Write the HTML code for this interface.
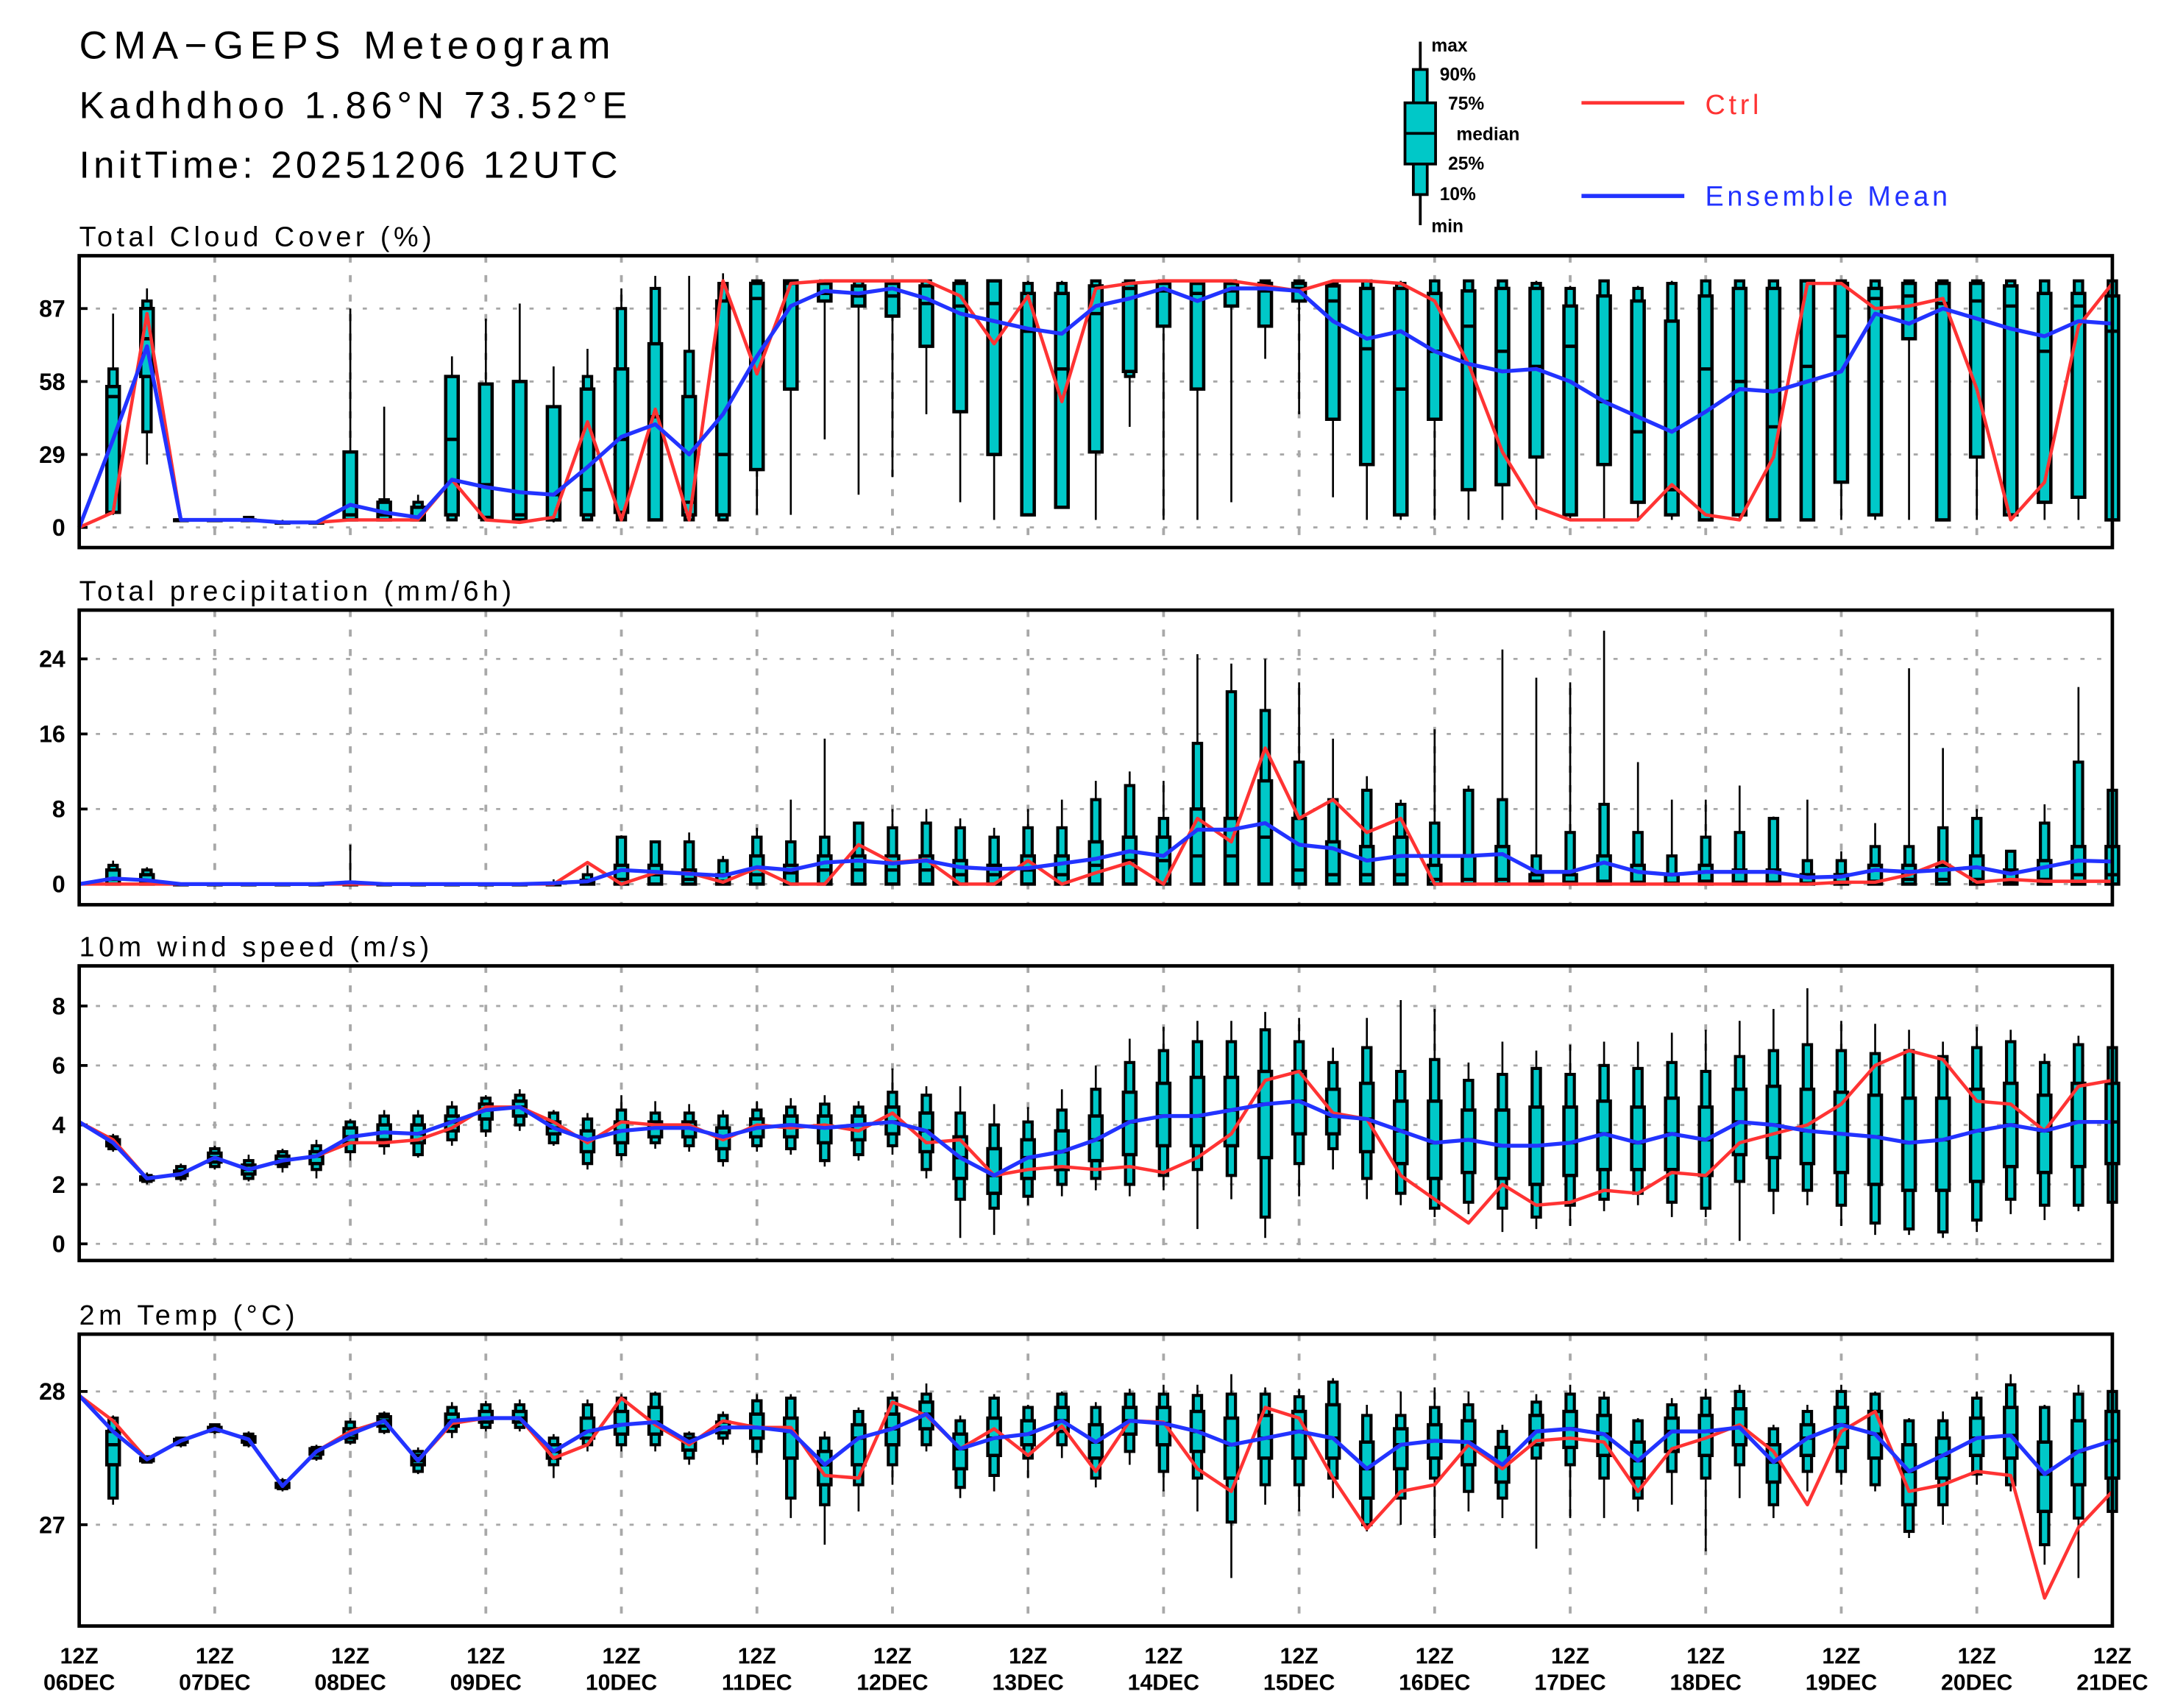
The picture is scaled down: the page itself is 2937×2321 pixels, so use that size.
<!DOCTYPE html>
<html><head><meta charset="utf-8"><style>
html,body{margin:0;padding:0;background:#fff;}
svg{display:block;font-family:"Liberation Sans",sans-serif;}
</style></head><body>
<svg id="chart" xmlns="http://www.w3.org/2000/svg" width="2937" height="2321" viewBox="0 0 1555 1229" preserveAspectRatio="none">
<g>
<text x="57" y="42" font-size="28" letter-spacing="4.5">CMA−GEPS Meteogram</text>
<text x="57" y="85" font-size="27" letter-spacing="3.5">Kadhdhoo 1.86°N 73.52°E</text>
<text x="57" y="128" font-size="27" letter-spacing="2.8">InitTime: 20251206 12UTC</text>
</g>
<g font-weight="bold" font-size="13">
<line x1="1022" y1="30" x2="1022" y2="162" stroke="#000" stroke-width="2"/>
<rect x="1017" y="50" width="10" height="90" fill="#00c8c8" stroke="#000" stroke-width="2"/>
<rect x="1011" y="74" width="22" height="44" fill="#00c8c8" stroke="#000" stroke-width="2"/>
<line x1="1011" y1="96" x2="1033" y2="96" stroke="#000" stroke-width="2"/>
<text x="1030" y="37">max</text>
<text x="1036" y="58">90%</text>
<text x="1042" y="79">75%</text>
<text x="1048" y="101">median</text>
<text x="1042" y="122">25%</text>
<text x="1036" y="144">10%</text>
<text x="1030" y="167">min</text>
<line x1="1138" y1="74" x2="1212" y2="74" stroke="#ff3333" stroke-width="2.5"/>
<text x="1227" y="82" font-size="20" font-weight="normal" letter-spacing="2.5" fill="#ff3333">Ctrl</text>
<line x1="1138" y1="141" x2="1212" y2="141" stroke="#2233ff" stroke-width="3"/>
<text x="1227" y="148" font-size="20" font-weight="normal" letter-spacing="2.5" fill="#2233ff">Ensemble Mean</text>
</g>
<g id="plots"></g>
</svg>
<script>
// box rows: [min, p10, p25, median, p75, p90, max]
const cloudBoxes=[[5,6,6,52,56,63,85],[25,38,60,75,87,90,95],[3,3,3,3,3,3,3],[3,3,3,3,3,3,3],[3,3,3,3,3,4,4],[2,2,2,2,2,2,3],[2,2,2,2,2,2,2],[3,3,3,5,30,30,87],[3,3,3,5,10,11,48],[3,3,3,4,8,10,13],[3,3,5,35,60,60,68],[3,3,4,17,57,57,83],[3,3,3,5,58,58,89],[2,3,3,13,48,48,64],[3,3,5,15,55,60,71],[3,3,6,35,63,87,95],[3,3,3,44,73,95,100],[3,3,5,10,52,70,100],[3,3,5,29,90,97,101],[5,23,23,91,97,98,98],[5,55,55,97,98,98,98],[35,90,90,93,97,98,98],[13,88,88,92,96,98,98],[20,84,84,92,97,98,98],[45,72,72,89,96,98,98],[10,46,46,88,97,98,98],[3,29,29,89,98,98,98],[5,5,5,78,93,97,98],[8,8,8,63,93,97,98],[3,30,30,85,96,98,98],[40,60,62,95,97,98,98],[3,80,80,94,97,98,98],[3,55,55,93,97,98,98],[10,88,88,94,97,98,98],[67,80,80,94,97,98,98],[45,90,90,95,97,98,98],[12,43,43,90,96,97,98],[3,25,25,71,95,98,98],[3,5,5,55,95,97,98],[3,43,43,70,93,98,98],[3,15,15,80,94,98,98],[3,17,17,70,95,98,98],[3,28,28,64,95,97,98],[3,5,5,72,88,95,96],[3,25,25,50,92,98,98],[3,10,10,38,90,95,96],[3,5,5,15,82,97,98],[3,3,3,63,92,98,98],[3,5,5,58,95,98,98],[3,3,3,40,95,98,98],[3,3,3,64,98,98,98],[3,18,18,76,97,98,98],[3,5,5,91,95,98,98],[3,75,75,92,97,98,98],[3,3,3,89,97,98,98],[3,28,28,90,97,98,98],[3,5,5,88,96,98,98],[3,10,10,70,93,98,98],[3,12,12,88,93,98,98],[3,3,3,78,92,98,98]];
const cloudCtrl=[0,6,85,3,3,3,2,2,3,3,3,19,3,2,4,42,3,47,3,98,61,97,98,98,98,98,92,73,92,50,95,97,98,98,98,96,94,98,98,97,90,65,30,8,3,3,3,17,5,3,28,97,97,87,88,91,55,3,18,80,97];
const cloudMean=[0,35,72,3,3,3,2,2,9,6,4,19,16,14,13,24,36,41,29,45,68,88,94,93,95,91,85,82,79,77,88,91,95,90,95,95,94,82,75,78,70,65,62,63,58,50,44,38,46,55,54,58,62,85,81,87,83,79,76,82,81];

const precipBoxes=[[0,0,0,0.5,1.5,2,2.5],[0,0,0,0.3,1,1.5,1.8],[0,0,0,0,0,0,0],[0,0,0,0,0,0,0],[0,0,0,0,0,0,0.1],[0,0,0,0,0,0,0.1],[0,0,0,0,0,0,0],[0,0,0,0,0,0.2,4.2],[0,0,0,0,0,0,0],[0,0,0,0,0,0,0],[0,0,0,0,0,0,0],[0,0,0,0,0,0,0],[0,0,0,0,0,0,0],[0,0,0,0,0,0,0.5],[0,0,0,0.1,0.4,1,2],[0,0,0,0.5,2,5,5.2],[0,0,0,1,2,4.5,4.6],[0,0,0,0.5,1.5,4.5,5.5],[0,0,0,0.3,1,2.5,3],[0,0,0,1,3,5,6],[0,0,0,1.2,2,4.5,9],[0,0,0,1.5,3,5,15.5],[0,0,0,1.5,3,6.5,6.6],[0,0,0,1.5,3,6,8],[0,0,0,1.5,3,6.5,8],[0,0,0,1,2.5,6,7],[0,0,0,1,2,5,6],[0,0,0,1.5,3,6,8],[0,0,0,1,3,6,9],[0,0,0,2,4.5,9,11],[0,0,0,2.5,5,10.5,12],[0,0,0,2.5,5,7,11],[0,0,0,3,8,15,24.5],[0,0,0,3,7,20.5,23.5],[0,0,0,5,11,18.5,24],[0,0,0,1.5,7,13,21.5],[0,0,0,1,4.5,9,15.5],[0,0,0,1,4,10,11.5],[0,0,0,1,5,8.5,9],[0,0,0,0.5,2,6.5,16.5],[0,0,0,0.5,3,10,10.5],[0,0,0,0.5,4,9,25],[0,0,0,0.3,1,3,22],[0,0,0,0.2,1,5.5,21.5],[0,0,0,0.3,3,8.5,27],[0,0,0,0.2,2,5.5,13],[0,0,0,0.1,1,3,9],[0,0,0,0.3,2,5,9],[0,0,0,0.2,1.5,5.5,10.5],[0,0,0,0.2,1.5,7,7.2],[0,0,0,0.1,1,2.5,9],[0,0,0,0.2,1,2.5,3.5],[0,0,0,0.3,2,4,6.5],[0,0,0,0.5,2,4,23],[0,0,0,0.5,2,6,14.5],[0,0,0,0.5,3,7,8],[0,0,0,0.2,1.5,3.5,3.6],[0,0,0,0.5,2.5,6.5,8.5],[0,0,0,1,4,13,21],[0,0,0,1,4,10,10]];
const precipCtrl=[0,0,0,0,0,0,0,0,0,0,0,0,0,0,0,2.3,0,1.2,1.2,0.2,1.7,0,0,4.2,2.3,2.6,0,0,2.5,0,1.2,2.3,0,7,4.5,14.5,7,9,5.5,7,0,0,0,0,0,0,0,0,0,0,0,0,0.2,0.2,1,2.4,0.2,0.5,0.3,0.3,0.3];
const precipMean=[0,0.6,0.4,0,0,0,0,0,0.2,0,0,0,0,0,0.1,0.3,1.5,1.3,1.1,0.9,1.8,1.5,2.3,2.5,2.2,2.5,1.8,1.6,1.7,2.2,2.7,3.5,3,5.8,5.8,6.5,4.2,3.8,2.5,3,3,3,3.2,1.3,1.3,2.3,1.3,1,1.3,1.3,1.3,0.7,0.8,1.5,1.3,1.5,1.8,1.1,1.8,2.5,2.4];

const windBoxes=[[3.1,3.2,3.3,3.4,3.5,3.6,3.7],[2.0,2.1,2.15,2.2,2.25,2.3,2.4],[2.1,2.2,2.3,2.35,2.45,2.6,2.7],[2.5,2.6,2.75,2.9,3.05,3.2,3.3],[2.1,2.2,2.35,2.5,2.65,2.8,3.0],[2.4,2.6,2.7,2.8,2.95,3.1,3.2],[2.2,2.5,2.7,2.95,3.1,3.3,3.5],[2.8,3.1,3.4,3.6,3.9,4.1,4.2],[3.0,3.3,3.5,3.75,4.0,4.3,4.5],[2.9,3.0,3.4,3.7,4.0,4.3,4.5],[3.3,3.5,3.8,4.1,4.3,4.6,4.8],[3.6,3.8,4.2,4.5,4.7,4.9,5.0],[3.8,4.0,4.3,4.6,4.8,5.0,5.2],[3.3,3.4,3.7,3.9,4.1,4.4,4.5],[2.5,2.7,3.1,3.5,3.8,4.2,4.4],[2.8,3.0,3.4,3.8,4.1,4.5,5.0],[3.2,3.4,3.6,3.9,4.1,4.4,4.8],[3.1,3.3,3.6,3.9,4.1,4.4,4.7],[2.6,2.8,3.2,3.6,3.9,4.3,4.5],[3.1,3.3,3.6,3.9,4.2,4.5,4.8],[3.0,3.2,3.6,4.0,4.3,4.6,4.9],[2.6,2.8,3.4,3.9,4.3,4.7,5.0],[2.8,3.0,3.5,4.0,4.3,4.6,4.8],[3.0,3.3,3.7,4.1,4.6,5.1,5.9],[2.2,2.5,3.1,3.8,4.4,5.0,5.3],[0.2,1.5,2.2,2.9,3.6,4.4,5.3],[0.3,1.2,1.7,2.3,3.2,4.0,4.7],[1.3,1.6,2.2,2.9,3.5,4.1,4.6],[1.6,2.0,2.5,3.1,3.8,4.5,5.2],[1.8,2.2,2.8,3.5,4.3,5.2,6.0],[1.6,2.0,3.0,4.1,5.1,6.1,6.9],[1.8,2.3,3.3,4.3,5.4,6.5,7.3],[0.5,2.5,3.3,4.3,5.6,6.8,7.5],[1.5,2.3,3.3,4.5,5.6,6.8,7.5],[0.2,0.9,2.9,4.7,5.8,7.2,7.8],[1.6,2.7,3.7,4.8,5.8,6.8,7.6],[2.5,3.2,3.7,4.3,5.2,6.1,6.6],[1.5,2.2,3.1,4.2,5.4,6.6,7.6],[1.3,1.7,2.7,3.8,4.8,5.8,8.2],[0.9,1.2,2.2,3.4,4.8,6.2,7.9],[1.0,1.4,2.4,3.5,4.5,5.5,6.1],[0.4,1.2,2.2,3.3,4.5,5.7,6.8],[0.5,0.9,2.0,3.3,4.6,5.9,6.5],[0.6,1.3,2.3,3.4,4.6,5.7,6.7],[1.1,1.5,2.5,3.7,4.8,6.0,6.8],[1.3,1.7,2.5,3.4,4.6,5.9,6.8],[0.9,1.4,2.5,3.7,4.9,6.1,7.1],[0.9,1.2,2.3,3.5,4.6,5.8,7.2],[0.1,2.1,3.0,4.1,5.2,6.3,7.5],[1.0,1.8,2.9,4.0,5.3,6.5,7.9],[1.3,1.8,2.7,3.8,5.2,6.7,8.6],[0.6,1.3,2.4,3.7,5.1,6.5,7.5],[0.3,0.7,2.0,3.6,5.0,6.4,7.4],[0.3,0.5,1.8,3.4,4.9,6.5,7.2],[0.2,0.4,1.8,3.5,4.9,6.3,6.8],[0.4,0.8,2.1,3.8,5.2,6.6,7.3],[1.0,1.5,2.6,4.0,5.4,6.8,7.2],[0.8,1.3,2.4,3.8,5.0,6.1,6.4],[1.1,1.3,2.6,4.1,5.4,6.7,7.0],[1.3,1.4,2.7,4.1,5.4,6.6,6.6]];
const windCtrl=[4.1,3.5,2.2,2.35,2.9,2.5,2.8,2.95,3.4,3.4,3.5,3.9,4.6,4.6,4.1,3.4,4.1,4.0,4.0,3.5,4.0,3.9,4.0,3.8,4.4,3.4,3.5,2.3,2.5,2.6,2.5,2.6,2.4,2.9,3.7,5.5,5.8,4.4,4.2,2.3,1.5,0.7,2.0,1.3,1.4,1.8,1.7,2.4,2.3,3.4,3.7,4.0,4.7,6.0,6.5,6.2,4.8,4.7,3.8,5.3,5.5];
const windMean=[4.1,3.4,2.2,2.35,2.9,2.5,2.8,2.95,3.6,3.75,3.7,4.1,4.5,4.6,3.9,3.5,3.8,3.9,3.9,3.6,3.9,4.0,3.9,4.0,4.1,3.8,2.9,2.3,2.9,3.1,3.5,4.1,4.3,4.3,4.5,4.7,4.8,4.3,4.2,3.8,3.4,3.5,3.3,3.3,3.4,3.7,3.4,3.7,3.5,4.1,4.0,3.8,3.7,3.6,3.4,3.5,3.8,4.0,3.8,4.1,4.1];

const tempBoxes=[[27.15,27.2,27.45,27.6,27.7,27.8,27.82],[27.46,27.47,27.48,27.49,27.5,27.51,27.52],[27.58,27.6,27.62,27.63,27.64,27.65,27.66],[27.68,27.7,27.71,27.72,27.73,27.75,27.76],[27.58,27.6,27.62,27.64,27.66,27.68,27.7],[27.25,27.27,27.28,27.29,27.31,27.33,27.35],[27.48,27.5,27.53,27.55,27.57,27.58,27.6],[27.6,27.62,27.65,27.68,27.72,27.77,27.8],[27.68,27.7,27.74,27.78,27.81,27.83,27.85],[27.38,27.4,27.45,27.48,27.52,27.55,27.58],[27.65,27.7,27.74,27.78,27.83,27.88,27.92],[27.7,27.73,27.77,27.8,27.85,27.9,27.93],[27.7,27.73,27.77,27.8,27.85,27.9,27.94],[27.35,27.45,27.5,27.55,27.6,27.65,27.68],[27.55,27.6,27.65,27.7,27.8,27.9,27.94],[27.55,27.6,27.68,27.75,27.85,27.95,27.98],[27.55,27.6,27.68,27.77,27.88,27.98,28.0],[27.45,27.5,27.56,27.62,27.65,27.68,27.7],[27.6,27.65,27.69,27.73,27.77,27.82,27.85],[27.45,27.55,27.65,27.73,27.83,27.93,27.98],[27.05,27.2,27.5,27.7,27.8,27.95,27.98],[26.85,27.15,27.3,27.45,27.55,27.65,27.7],[27.1,27.3,27.45,27.65,27.75,27.85,27.88],[27.3,27.45,27.6,27.72,27.83,27.95,28.0],[27.55,27.6,27.72,27.83,27.92,27.98,28.06],[27.2,27.28,27.42,27.57,27.68,27.78,27.82],[27.25,27.37,27.52,27.65,27.8,27.95,27.98],[27.35,27.5,27.6,27.68,27.78,27.88,27.9],[27.5,27.6,27.7,27.78,27.88,27.98,28.0],[27.28,27.35,27.5,27.62,27.75,27.88,27.92],[27.45,27.55,27.68,27.78,27.88,27.98,28.02],[27.25,27.4,27.6,27.76,27.88,27.98,28.05],[27.1,27.35,27.55,27.7,27.85,27.97,28.05],[26.6,27.02,27.35,27.6,27.8,27.98,28.13],[27.15,27.3,27.5,27.65,27.82,27.98,28.03],[27.1,27.3,27.5,27.7,27.85,27.96,28.02],[27.2,27.35,27.5,27.65,27.9,28.07,28.1],[26.95,27.0,27.2,27.42,27.62,27.82,27.9],[27.0,27.2,27.42,27.6,27.72,27.82,28.0],[26.9,27.35,27.5,27.63,27.75,27.88,28.03],[27.1,27.25,27.45,27.62,27.78,27.9,28.0],[27.05,27.2,27.32,27.45,27.58,27.7,27.75],[26.82,27.5,27.6,27.7,27.82,27.92,27.98],[27.05,27.45,27.58,27.72,27.85,27.98,28.05],[27.05,27.35,27.52,27.68,27.82,27.95,28.0],[27.1,27.2,27.35,27.48,27.62,27.78,27.8],[27.15,27.4,27.55,27.7,27.8,27.9,27.95],[26.8,27.35,27.52,27.7,27.82,27.95,28.02],[27.2,27.45,27.6,27.73,27.87,28.0,28.05],[27.05,27.15,27.32,27.47,27.6,27.72,27.75],[27.25,27.4,27.52,27.65,27.75,27.85,27.9],[27.3,27.4,27.58,27.75,27.88,28.0,28.05],[27.25,27.3,27.5,27.68,27.85,27.98,28.0],[26.9,26.95,27.15,27.4,27.6,27.78,27.8],[27.0,27.15,27.35,27.52,27.65,27.78,27.85],[27.3,27.38,27.52,27.65,27.8,27.95,28.0],[27.25,27.3,27.5,27.67,27.88,28.05,28.13],[26.7,26.85,27.1,27.38,27.62,27.88,27.9],[26.6,27.05,27.3,27.55,27.78,27.98,28.05],[26.7,27.1,27.35,27.63,27.85,28.0,28.05]];
const tempCtrl=[27.97,27.78,27.49,27.63,27.72,27.64,27.29,27.55,27.7,27.78,27.48,27.76,27.8,27.8,27.5,27.6,27.95,27.75,27.6,27.78,27.73,27.73,27.37,27.35,27.92,27.82,27.57,27.72,27.52,27.74,27.4,27.78,27.77,27.42,27.25,27.88,27.8,27.35,26.97,27.25,27.3,27.6,27.42,27.63,27.65,27.62,27.25,27.57,27.65,27.75,27.55,27.15,27.7,27.85,27.25,27.3,27.4,27.37,26.45,26.98,27.25];
const tempMean=[27.97,27.7,27.49,27.63,27.72,27.64,27.29,27.55,27.68,27.78,27.48,27.78,27.8,27.8,27.55,27.7,27.75,27.77,27.62,27.73,27.73,27.7,27.45,27.65,27.72,27.83,27.57,27.65,27.68,27.78,27.62,27.78,27.76,27.7,27.6,27.65,27.7,27.65,27.42,27.6,27.63,27.62,27.45,27.7,27.72,27.68,27.48,27.7,27.7,27.73,27.47,27.65,27.75,27.68,27.4,27.52,27.65,27.67,27.38,27.55,27.63];

const dayLabels=["06DEC","07DEC","08DEC","09DEC","10DEC","11DEC","12DEC","13DEC","14DEC","15DEC","16DEC","17DEC","18DEC","19DEC","20DEC","21DEC"];
const cloudTicks=[0,29,58,87];
const precipTicks=[0,8,16,24];
const windTicks=[0,2,4,6,8];
const tempTicks=[27,28];

const NS="http://www.w3.org/2000/svg";
const X0=57,X1=1520,NSTEP=60;
function xs(i){return X0+(X1-X0)*i/NSTEP;}
function mk(tag,attrs,parent){const e=document.createElementNS(NS,tag);for(const k in attrs)e.setAttribute(k,attrs[k]);parent.appendChild(e);return e;}
const root=document.getElementById('plots');

function panel(name,title,top,bot,vmin,vmax,ticks,boxes,ctrl,mean){
  const g=mk('g',{},root);
  
  
  const ys=v=>bot-(v-vmin)/(vmax-vmin)*(bot-top);
  const t=mk('text',{x:57,y:top-7,'font-size':20,'letter-spacing':2.9},g);t.textContent=title;
  
  
  for(let d=1;d<dayLabels.length-1;d++){
    const x=X0+(X1-X0)*d/15;
    const l=mk('line',{x1:x,x2:x,y1:top,y2:bot,stroke:'#a8a8a8','stroke-width':2,'stroke-dasharray':'5,9'},g);
    
    
  }
  ticks.forEach(v=>{
    const y=ys(v);
    const l=mk('line',{x1:X0,x2:X1,y1:y,y2:y,stroke:'#a8a8a8','stroke-width':1.5,'stroke-dasharray':'3,9'},g);
    
    
    const tk=mk('line',{x1:X0,x2:X0+6,y1:y,y2:y,stroke:'#000','stroke-width':2},g);
    
    
    const tl=mk('text',{x:X0-10,y:y+6,'font-size':17,'font-weight':'bold','text-anchor':'end'},g);
    tl.textContent=String(v);
    
    
  });
  boxes.forEach((b,k)=>{
    const x=xs(k+1);
    const bg=mk('g',{},g);
    
    
    mk('line',{x1:x,x2:x,y1:ys(b[0]),y2:ys(b[6]),stroke:'#000','stroke-width':1.4},bg);
    mk('rect',{x:x-3,y:ys(b[5]),width:6,height:Math.max(ys(b[1])-ys(b[5]),0.5),fill:'#00c8c8',stroke:'#000','stroke-width':2.2},bg);
    mk('rect',{x:x-4.5,y:ys(b[4]),width:9,height:Math.max(ys(b[2])-ys(b[4]),0.5),fill:'#00c8c8',stroke:'#000','stroke-width':2.4},bg);
    mk('line',{x1:x-4.5,x2:x+4.5,y1:ys(b[3]),y2:ys(b[3]),stroke:'#000','stroke-width':2.4},bg);
  });
  const pc=mk('polyline',{points:ctrl.map((v,i)=>xs(i)+','+ys(v)).join(' '),fill:'none',stroke:'#ff3333','stroke-width':2.4,'stroke-linejoin':'round'},g);
  
  
  const pm=mk('polyline',{points:mean.map((v,i)=>xs(i)+','+ys(v)).join(' '),fill:'none',stroke:'#2233ff','stroke-width':2.8,'stroke-linejoin':'round'},g);
  
  
  const fr=mk('rect',{x:X0,y:top,width:X1-X0,height:bot-top,fill:'none',stroke:'#000','stroke-width':2.5},g);
  
  
}
panel('cloud','Total Cloud Cover (%)',184,394,-8,108,cloudTicks,cloudBoxes,cloudCtrl,cloudMean);
panel('precip','Total precipitation (mm/6h)',439,651,-2.2,29.2,precipTicks,precipBoxes,precipCtrl,precipMean);
panel('wind','10m wind speed (m/s)',695,907,-0.56,9.35,windTicks,windBoxes,windCtrl,windMean);
panel('temp','2m Temp (°C)',960,1170,26.24,28.43,tempTicks,tempBoxes,tempCtrl,tempMean);

const xg=mk('g',{},root);


dayLabels.forEach((d,k)=>{
  const x=X0+(X1-X0)*k/15;
  const a=mk('text',{x:x,y:1197,'font-size':16,'font-weight':'bold','text-anchor':'middle'},xg);
  a.textContent='12Z';
  
  
  const b=mk('text',{x:x,y:1216,'font-size':16,'font-weight':'bold','text-anchor':'middle'},xg);
  b.textContent=d;
  
  
});
</script>
</body></html>
